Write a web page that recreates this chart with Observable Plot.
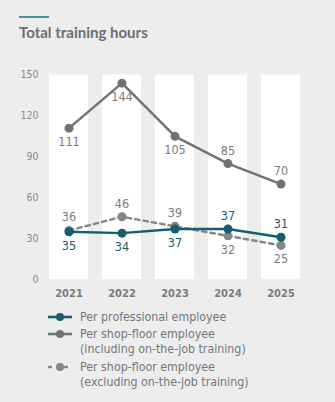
<!DOCTYPE html>
<html><head><meta charset="utf-8">
<script src="https://cdn.jsdelivr.net/npm/d3@7"></script>
<script src="https://cdn.jsdelivr.net/npm/@observablehq/plot@0.6"></script>
<style>
html,body{margin:0;padding:0;background:#ecedec;width:335px;height:402px;overflow:hidden;font-family:'Liberation Sans Narrow','DejaVu Sans Condensed',sans-serif;}
#title{position:relative;height:50px;}
#accent{position:absolute;left:19px;top:16px;width:30px;height:2px;background:#4b8fa0;}
#ttext{position:absolute;left:19px;top:23px;font-family:Lato,sans-serif;font-weight:bold;font-size:15px;color:#6d6f72;white-space:nowrap;}
#legend{position:relative;margin-top:0px;}
.row{position:absolute;left:48px;display:flex;align-items:flex-start;font-size:12.3px;line-height:15px;color:#75777a;}
.row svg{flex:none;margin-right:8px;margin-top:2px;}
</style></head>
<body>
<div id="title"><div id="accent"></div><div id="ttext">Total training hours</div></div>
<div id="chart"></div>
<div id="legend"></div>
<script>
const years = ["2021","2022","2023","2024","2025"];
const professional = [35,34,37,37,31];
const shopIncl = [111,144,105,85,70];
const shopExcl = [36,46,39,32,25];
const yTicks = [0,30,60,90,120,150];
const seriesNames = ["Per professional employee","Per shop-floor employee\n(including on-the-job training)","Per shop-floor employee\n(excluding on-the-job training)"];

// label placement (style): above / below the point
const profPlace = ["below","below","below","above","above"];
const inclPlace = ["below","below","below","above","above"];
const exclPlace = ["above","above","above","below","below"];

const teal = "#135e6f", grey = "#717274", dgrey = "#858688", lgrey = "#7b7c7e";
const font = "'Liberation Sans Narrow','DejaVu Sans Condensed',sans-serif";

const mk = (vals, place) => years.map((y,i)=>({year:y, value:vals[i], place:place[i]}));
const P = mk(professional, profPlace), I = mk(shopIncl, inclPlace), E = mk(shopExcl, exclPlace);
const yMax = yTicks[yTicks.length-1];

const labels = (data, color) => [
  Plot.text(data.filter(d=>d.place==="above"), {x:"year", y:"value", text:d=>String(d.value), dy:-13, fill:color, fontSize:12.5}),
  Plot.text(data.filter(d=>d.place==="below"), {x:"year", y:"value", text:d=>String(d.value), dy:14, fill:color, fontSize:12.5})
];

const chart = Plot.plot({
  width:335, height:255,
  marginTop:24.5, marginBottom:26, marginLeft:48, marginRight:34,
  style:{fontFamily:font, background:"transparent", overflow:"visible"},
  x:{domain:years, paddingInner:0.27, paddingOuter:0, label:null},
  y:{domain:[0,yMax], ticks:yTicks, label:null},
  marks:[
    Plot.barY(years, {x:d=>d, y1:0, y2:yMax, fill:"white"}),
    Plot.axisY({ticks:yTicks, tickSize:0, tickPadding:10, fontSize:10.5, fill:"#8a8b8d", label:null}),
    Plot.axisX({tickSize:0, tickPadding:10, fontSize:11, fontWeight:"bold", fill:"#7a7b7d", label:null}),
    Plot.line(E, {x:"year", y:"value", stroke:dgrey, strokeWidth:2.4, strokeDasharray:"4.5,4"}),
    Plot.dot(E, {x:"year", y:"value", r:4.5, fill:dgrey}),
    Plot.line(I, {x:"year", y:"value", stroke:grey, strokeWidth:2.4}),
    Plot.dot(I, {x:"year", y:"value", r:4.5, fill:grey}),
    Plot.line(P, {x:"year", y:"value", stroke:teal, strokeWidth:2.4}),
    Plot.dot(P, {x:"year", y:"value", r:4.5, fill:teal}),
    ...labels(I, lgrey),
    ...labels(E, lgrey),
    ...labels(P, teal)
  ]
});
document.getElementById("chart").appendChild(chart);

// legend
const legend = document.getElementById("legend");
const styles = [{c:teal,d:null},{c:grey,d:null},{c:dgrey,d:"4,4"}];
const tops = [5, 22, 55];
seriesNames.forEach((name,i)=>{
  const row = document.createElement("div");
  row.className="row"; row.style.top = tops[i]+"px";
  const s = styles[i];
  row.innerHTML = `<svg width="24" height="10"><line x1="0" x2="24" y1="5" y2="5" stroke="${s.c}" stroke-width="2.6" ${s.d?`stroke-dasharray="${s.d}"`:""}/><circle cx="12" cy="5" r="4" fill="${s.c}"/></svg><div>${name.replace("\n","<br>")}</div>`;
  legend.appendChild(row);
});
</script>
</body></html>
